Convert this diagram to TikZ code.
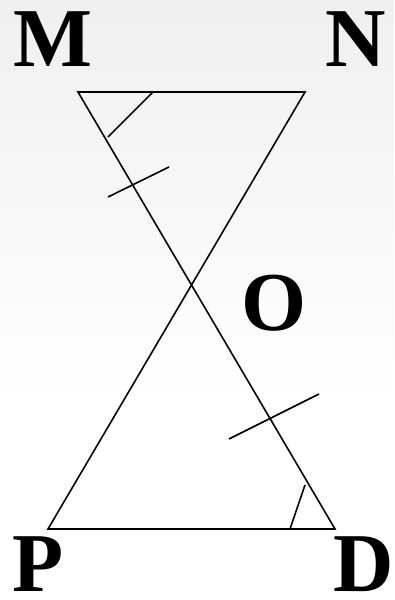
\documentclass[tikz,border=0pt]{standalone}
\usepackage{fontspec}
\setmainfont{Liberation Serif}
\usetikzlibrary{calc}

\begin{document}
\begin{tikzpicture}[x=1bp, y=1bp, line width=1.6bp,
        vlabel/.style={anchor=base, inner sep=0pt, text depth=0pt, font=\fontsize{84}{84}\selectfont\bfseries}]

        % -----------------------
        % Background
        % -----------------------
        \useasboundingbox (0,0) rectangle (394,600);
        \fill[white] (0,0) rectangle (394,200);
        \fill[top color=gray!12, bottom color=white, draw=none] (0,200) rectangle (394,600);

        % -----------------------
        % Vertices
        % -----------------------
        \coordinate (m) at (78,508);
        \coordinate (n) at (305,508);
        \coordinate (p) at (48,71);
        \coordinate (d) at (335,71);
        \coordinate (o) at (intersection of m--d and p--n);

        % -----------------------
        % Labels
        % -----------------------
        \node[vlabel] (lm) at (53,533) {M};
        \node[vlabel] (ln) at (356,533) {N};
        \node[vlabel] (lo) at (274,269) {O};
        \node[vlabel] (lp) at (38,8) {P};
        \node[vlabel] (ld) at (364,8) {D};

        % -----------------------
        % Sides
        % -----------------------
        \draw (m) -- (n) -- (p) -- (d) -- cycle;

        % -----------------------
        % Marks
        % -----------------------
        % angle marks
        \draw (153,508) -- (108,463);
        \draw (290,71) -- (305,115);
        % equal segments
        \draw (108,403) -- (169,433);
        \draw (229,161) -- (319,206);

    \end{tikzpicture}
\end{document}
